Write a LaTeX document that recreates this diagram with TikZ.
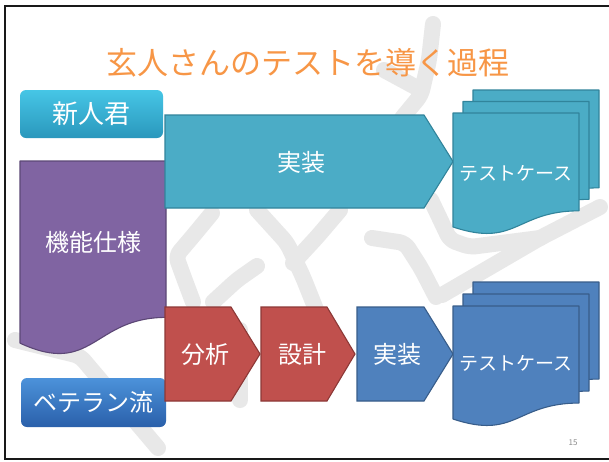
\documentclass[tikz,border=0pt]{standalone}
\usepackage{fontspec}
\setmainfont{Noto Sans CJK JP}
\usetikzlibrary{calc}
\definecolor{wmgray}{HTML}{E8E8E8}
\definecolor{titleorange}{HTML}{F79646}
\definecolor{tealfill}{HTML}{4BACC6}
\definecolor{tealdraw}{HTML}{31849B}
\definecolor{redfill}{HTML}{C0504D}
\definecolor{reddraw}{HTML}{8C3836}
\definecolor{bluefill}{HTML}{4F81BD}
\definecolor{bluedraw}{HTML}{385D8A}
\definecolor{purplefill}{HTML}{8064A2}
\definecolor{purpledraw}{HTML}{5C4776}
\definecolor{cyantop}{HTML}{46C6E6}
\definecolor{cyanbot}{HTML}{2A97BC}
\definecolor{btntop}{HTML}{4C92DA}
\definecolor{btnbot}{HTML}{2A60AA}
\newcommand\docshape[6]{%
  \filldraw[fill=#1,draw=#2,line width=1.1pt,line join=round]
    (#3,#4) -- ({#3+#5},#4) -- ({#3+#5},{#4+0.802*#6})
    .. controls ({#3+0.5*#5},{#4+0.802*#6}) and ({#3+0.5*#5},{#4+1.1075*#6}) ..
    (#3,{#4+0.934*#6}) -- cycle;}
\newcommand\homeplate[7]{% fill draw x0 xflat xtip ytop ybot
  \filldraw[fill=#1,draw=#2,line width=1.1pt,line join=miter]
    (#3,#6) -- (#4,#6) -- (#5,{(#6+#7)/2}) -- (#4,#7) -- (#3,#7) -- cycle;}
\tikzset{
  wm/.style={draw=wmgray,line width=16pt,line cap=round,line join=round,rounded corners=6pt},
  lbl/.style={text=white,font=\fontsize{24}{24}\selectfont,inner sep=0pt},
  doclbl/.style={text=white,font=\fontsize{19}{19}\selectfont,inner sep=0pt},
  btn/.style={rounded corners=6pt,draw=none,text=white,inner sep=0pt}
}
\begin{document}
\begin{tikzpicture}[x=1pt,y=-1pt]
\useasboundingbox (0,0) rectangle (609,461);
\fill[white] (0,0) rectangle (609,461);
% watermark strokes
\draw[wm] (433,24) -- (429,60) -- (421,95) -- (402,118);
\draw[wm] (421,90) -- (384,70);
\draw[wm] (431,200) -- (450,240) -- (470,247) -- (540,238);
\draw[wm] (600,207) -- (540,238) -- (442,295);
\draw[wm] (372,238) -- (405,243) -- (421,268) -- (436,297);
\draw[wm] (212,213) -- (193,236) -- (176,256) -- (184,278) -- (193,302);
\draw[wm] (257,266) -- (237,280) -- (213,302);
\draw[wm] (257,210) -- (287,243) -- (303,277) -- (317,312);
\draw[wm] (340,210) -- (317,237) -- (293,263);
\draw[wm] (240,330) -- (240,400);
\draw[wm] (15,340) -- (80,356) -- (158,448);
% frame
\draw[line width=2pt,draw=black!90] (609,5.5) -- (4.5,5.5) -- (4.5,458.5) -- (609,458.5);
% title
\node[text=titleorange,font=\fontsize{31}{31}\selectfont,inner sep=0pt] (title) at (308,63) {玄人さんのテストを導く過程};
% purple document
\docshape{purplefill}{purpledraw}{20}{161}{146}{195}
\node[lbl] (spec) at (93,242) {機能仕様};
% buttons
\node[btn,top color=cyantop,bottom color=cyanbot,minimum width=143pt,minimum height=48pt] (novice) at (91.5,114) {\fontsize{26}{26}\selectfont 新人君};
\node[btn,top color=btntop,bottom color=btnbot,minimum width=145pt,minimum height=49pt] (veteran) at (93.5,402.5) {\fontsize{24}{24}\selectfont ベテラン流};
% top row
\homeplate{tealfill}{tealdraw}{165}{424}{453}{115}{208}
\node[lbl] (impl1) at (301,162) {実装};
\docshape{tealfill}{tealdraw}{473}{90}{126}{122}
\docshape{tealfill}{tealdraw}{463}{101.5}{126}{122}
\docshape{tealfill}{tealdraw}{453}{113}{126}{122}
\node[doclbl] (tc1) at (516,173) {テストケース};
% bottom row
\homeplate{redfill}{reddraw}{165}{231}{260}{307}{401}
\node[lbl] (analysis) at (205,354) {分析};
\homeplate{redfill}{reddraw}{261}{327}{355}{307}{401}
\node[lbl] (design) at (302,354) {設計};
\homeplate{bluefill}{bluedraw}{357}{424}{453}{307}{401}
\node[lbl] (impl2) at (397.5,354) {実装};
\docshape{bluefill}{bluedraw}{473}{282}{126}{121}
\docshape{bluefill}{bluedraw}{463}{294}{126}{121}
\docshape{bluefill}{bluedraw}{453}{306}{126}{121}
\node[doclbl] (tc2) at (516,363) {テストケース};
% page number
\node[text=black!45,font=\fontsize{8}{8}\selectfont,inner sep=0pt] (pageno) at (573,443) {15};
\end{tikzpicture}
\end{document}
